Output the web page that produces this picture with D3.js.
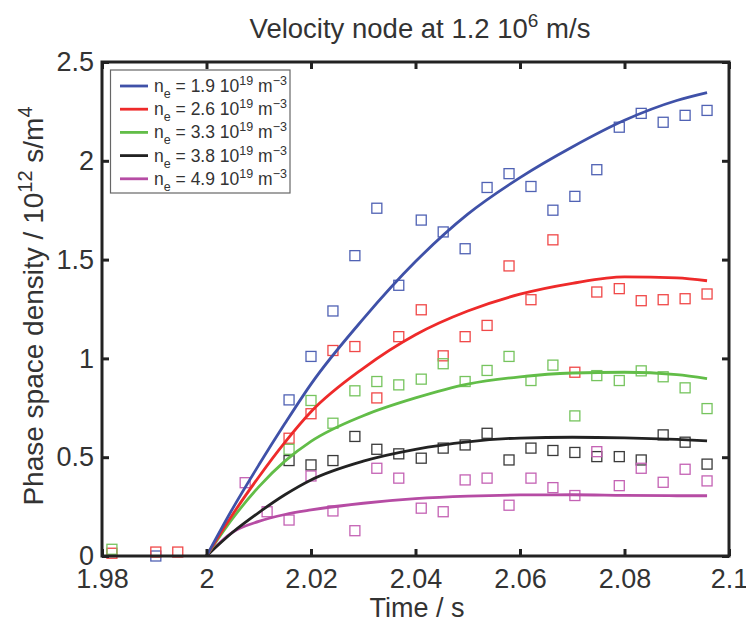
<!DOCTYPE html>
<html><head><meta charset="utf-8">
<script src="https://cdn.jsdelivr.net/npm/d3@7"></script>
<style>
html,body{margin:0;padding:0;background:#fff;}
svg text{font-family:"Liberation Sans",Arial,Helvetica,sans-serif;fill:#333;}
</style></head>
<body><svg id="chart" width="746" height="620"></svg>
<script>
// ---- data ----
const times = [1.9819, 1.9903, 1.9945, 2.0074, 2.0116, 2.0158, 2.0200, 2.0242, 2.0284, 2.0326, 2.0368, 2.0411, 2.0453, 2.0495, 2.0537, 2.0579, 2.0621, 2.0663, 2.0705, 2.0747, 2.0790, 2.0832, 2.0874, 2.0916, 2.0958];
const blueData  = [null, 0.0, null, null, null, 0.79, 1.01, 1.24, 1.52, 1.76, 1.37, 1.70, 1.64, 1.555, 1.865, 1.935, 1.87, 1.75, 1.82, 1.955, 2.17, 2.24, 2.195, 2.23, 2.255];
const redData   = [0.014, 0.02, 0.02, null, null, 0.596, 0.72, 1.04, 1.06, 0.80, 1.11, 1.246, 1.013, 1.11, 1.167, 1.468, 1.297, 1.60, 0.93, 1.336, 1.353, 1.292, 1.297, 1.302, 1.326];
const greenData = [0.034, null, null, null, null, 0.54, 0.787, 0.672, 0.836, 0.883, 0.866, 0.895, 0.973, 0.883, 0.939, 1.01, 0.888, 0.966, 0.709, 0.913, 0.888, 0.937, 0.907, 0.851, 0.746];
const blackData = [null, null, null, null, null, 0.483, 0.461, 0.483, 0.605, 0.54, 0.517, 0.495, 0.546, 0.562, 0.621, 0.486, 0.546, 0.534, 0.524, 0.503, 0.503, 0.486, 0.613, 0.576, 0.465];
const pinkData  = [null, null, null, 0.371, 0.224, 0.182, 0.405, 0.228, 0.128, 0.444, 0.394, 0.242, 0.224, 0.385, 0.394, 0.257, 0.394, 0.346, 0.306, 0.528, 0.356, 0.444, 0.373, 0.439, 0.38];

const fitTimes  = [2.000, 2.005, 2.010, 2.015, 2.020, 2.030, 2.040, 2.050, 2.060, 2.070, 2.080, 2.090, 2.0958];
const blueFit   = [0, 0.24, 0.46, 0.67, 0.87, 1.20, 1.49, 1.73, 1.915, 2.07, 2.205, 2.305, 2.345];
const redFit    = [0, 0.21, 0.40, 0.575, 0.73, 0.95, 1.12, 1.24, 1.325, 1.38, 1.413, 1.408, 1.393];
const greenFit  = [0, 0.19, 0.35, 0.48, 0.58, 0.71, 0.80, 0.87, 0.907, 0.926, 0.93, 0.918, 0.898];
const blackFit  = [0, 0.12, 0.22, 0.31, 0.385, 0.48, 0.54, 0.578, 0.597, 0.601, 0.598, 0.59, 0.583];
const pinkFit   = [0, 0.12, 0.175, 0.21, 0.233, 0.267, 0.29, 0.303, 0.309, 0.31, 0.307, 0.305, 0.305];

const densities = ["1.9", "2.6", "3.3", "3.8", "4.9"];
const xTicks = [1.98, 2.0, 2.02, 2.04, 2.06, 2.08, 2.1];
const xTickLabels = ["1.98", "2", "2.02", "2.04", "2.06", "2.08", "2.1"];
const yTicks = [0, 0.5, 1, 1.5, 2, 2.5];
const yTickLabels = ["0", "0.5", "1", "1.5", "2", "2.5"];

// ---- styles ----
const lineColors   = ["#3f51a8", "#ee2a2a", "#62bd48", "#222222", "#b64ca4"];
const markerColors = ["#5062b4", "#f04848", "#76c45e", "#3a3a3a", "#c462b4"];

const series = [
  {data: blueData,  fit: blueFit},
  {data: redData,   fit: redFit},
  {data: greenData, fit: greenFit},
  {data: blackData, fit: blackFit},
  {data: pinkData,  fit: pinkFit}
];

const svg = d3.select("#chart");
const L = 102, R = 729, T = 62, B = 556;
const x = d3.scaleLinear().domain([1.98, 2.1]).range([L, R]);
const y = d3.scaleLinear().domain([0, 2.5]).range([B, T]);

// markers
series.forEach((s, i) => {
  const pts = times.map((t, k) => ({t, v: s.data[k]})).filter(d => d.v !== null);
  svg.append("g").selectAll("rect").data(pts).enter().append("rect")
    .attr("x", d => x(d.t) - 5).attr("y", d => y(d.v) - 5)
    .attr("width", 10).attr("height", 10)
    .attr("fill", "none").attr("stroke", markerColors[i]).attr("stroke-width", 1.3);
});

// fit lines
const line = d3.line().x(d => x(d[0])).y(d => y(d[1])).curve(d3.curveMonotoneX);
series.slice().reverse().forEach((s, j) => {
  const i = series.length - 1 - j;
  svg.append("path").datum(fitTimes.map((t, k) => [t, s.fit[k]]))
    .attr("d", line).attr("fill", "none")
    .attr("stroke", lineColors[i]).attr("stroke-width", 2.8);
});

// axes
const gx = svg.append("g").attr("transform", `translate(0,${B})`)
  .call(d3.axisBottom(x).tickValues(xTicks).tickFormat((d, i) => xTickLabels[i]).tickSizeInner(-7).tickSizeOuter(0).tickPadding(13));
const gxt = svg.append("g").attr("transform", `translate(0,${T})`)
  .call(d3.axisTop(x).tickValues(xTicks).tickFormat("").tickSizeInner(-7).tickSizeOuter(0));
const gy = svg.append("g").attr("transform", `translate(${L},0)`)
  .call(d3.axisLeft(y).tickValues(yTicks).tickFormat((d, i) => yTickLabels[i]).tickSizeInner(-7).tickSizeOuter(0).tickPadding(8));
const gyr = svg.append("g").attr("transform", `translate(${R},0)`)
  .call(d3.axisRight(y).tickValues(yTicks).tickFormat("").tickSizeInner(-7).tickSizeOuter(0));
[gx, gxt, gy, gyr].forEach(g => {
  g.select(".domain").remove();
  g.selectAll(".tick line").attr("stroke", "#222").attr("stroke-width", 3);
  g.selectAll("text").attr("font-size", 27).attr("fill", "#333");
});
gx.selectAll("text").attr("dy", "0.71em");
svg.append("rect").attr("x", L).attr("y", T).attr("width", R - L).attr("height", B - T)
  .attr("fill", "none").attr("stroke", "#222").attr("stroke-width", 3);

// title
const title = svg.append("text").attr("x", 420).attr("y", 38).attr("text-anchor", "middle").attr("font-size", 27.5);
title.append("tspan").text("Velocity node at 1.2 10");
title.append("tspan").attr("font-size", 19).attr("dy", -11).text("6");
title.append("tspan").attr("dy", 11).text(" m/s");

// x label
svg.append("text").attr("x", 417).attr("y", 617).attr("text-anchor", "middle").attr("font-size", 27).text("Time / s");

// y label
const yl = svg.append("text").attr("transform", "translate(43,306) rotate(-90)")
  .attr("text-anchor", "middle").attr("font-size", 28);
yl.append("tspan").text("Phase space density / 10");
yl.append("tspan").attr("font-size", 20).attr("dy", -11).text("12");
yl.append("tspan").attr("dy", 11).text(" s/m");
yl.append("tspan").attr("font-size", 20).attr("dy", -11).text("4");

// legend
const lg = svg.append("g");
lg.append("rect").attr("x", 110.5).attr("y", 70).attr("width", 179.5).attr("height", 123)
  .attr("fill", "#fff").attr("stroke", "#666").attr("stroke-width", 1.2);
densities.forEach((d, i) => {
  const yy = 86 + i * 23.2;
  lg.append("line").attr("x1", 120).attr("x2", 148).attr("y1", yy).attr("y2", yy)
    .attr("stroke", lineColors[i]).attr("stroke-width", 2.8);
  const t = lg.append("text").attr("x", 154).attr("y", yy + 6).attr("font-size", 17.5);
  t.append("tspan").text("n");
  t.append("tspan").attr("font-size", 12.5).attr("dy", 6).text("e");
  t.append("tspan").attr("dy", -6).text(" = " + d + " 10");
  t.append("tspan").attr("font-size", 12.5).attr("dy", -7).text("19");
  t.append("tspan").attr("dy", 7).text(" m");
  t.append("tspan").attr("font-size", 12.5).attr("dy", -7).text("\u22123");
});
</script></body></html>
